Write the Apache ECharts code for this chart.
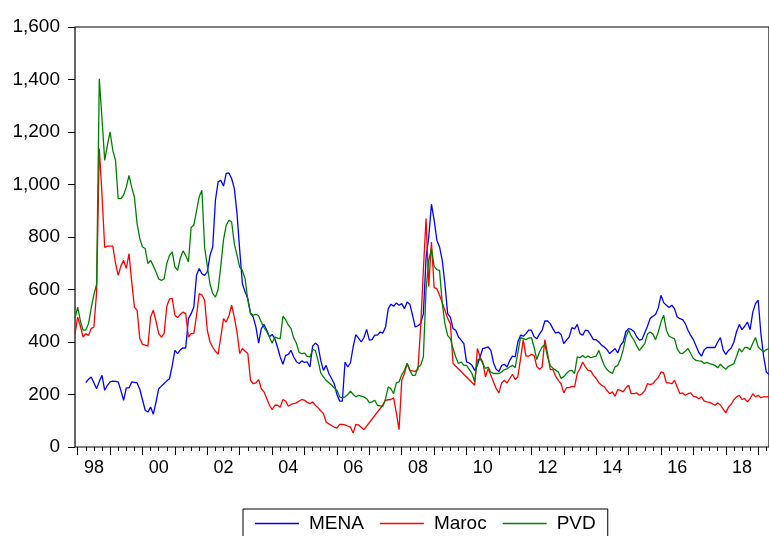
<!DOCTYPE html>
<html>
<head>
<meta charset="utf-8">
<script src="https://cdn.jsdelivr.net/npm/echarts@6/dist/echarts.min.js"></script>
<style>
    html, body { margin: 0; padding: 0; background: #fff; }
    #chart { width: 769px; height: 536px; }
</style>
</head>
<body>
<div id="chart"></div>
<script>
// monthly series, first observation 1997M12
var startYear = 1997;
var startMonth = 12;

var yTicks = [0, 200, 400, 600, 800, 1000, 1200, 1400, 1600];
var seriesNames = ['MENA', 'Maroc', 'PVD'];

var mena = [
    null, null, null, null, 245, 258, 267, 245, 222, 250, 273, 216,
    235, 248, 251, 250, 248, 215, 178, 225, 225, 248, 246, 244,
    220, 180, 140, 133, 152, 125, 171, 222, 232, 242, 252, 260,
    310, 368, 356, 370, 378, 377, 489, 508, 533, 654, 680, 660,
    654, 667, 730, 762, 940, 1010, 1016, 994, 1042, 1044, 1023, 985,
    889, 749, 622, 590, 565, 508, 495, 457, 396, 451, 467, 445,
    420, 429, 413, 380, 343, 315, 349, 353, 368, 343, 325, 318,
    328, 322, 324, 305, 384, 396, 387, 330, 292, 311, 280, 261,
    241, 200, 175, 175, 324, 305, 320, 381, 428, 415, 400, 417,
    448, 407, 409, 426, 426, 438, 434, 457, 527, 544, 536, 549,
    540, 546, 527, 552, 544, 502, 457, 462, 470, 508, 720, 800,
    925, 864, 788, 762, 711, 620, 508, 495, 451, 445, 419, 407,
    394, 324, 320, 311, 292, 311, 343, 375, 378, 381, 368, 320,
    295, 288, 311, 315, 305, 330, 346, 343, 400, 426, 422, 432,
    445, 445, 420, 412, 430, 445, 480, 480, 470, 450, 434, 438,
    429, 394, 407, 419, 455, 450, 467, 432, 426, 445, 442, 426,
    409, 409, 400, 388, 381, 371, 356, 366, 375, 358, 387, 400,
    440, 451, 448, 440, 420, 407, 410, 435, 460, 490, 498, 505,
    530, 578, 550, 540, 531, 540, 527, 495, 489, 485, 470, 445,
    425, 409, 385, 360, 346, 370, 379, 379, 379, 379, 400, 417,
    370, 353, 368, 377, 400, 440, 467, 447, 460, 476, 447, 514,
    546, 559, 432, 346, 286, 276
];

var maroc = [
    432, 495, 460, 419, 432, 425, 451, 457, 590, 1137, 960, 760,
    765, 765, 765, 700, 654, 690, 711, 680, 737, 630, 533, 521,
    413, 391, 388, 384, 495, 521, 480, 432, 419, 432, 536, 564,
    566, 502, 493, 505, 514, 508, 419, 432, 432, 500, 584, 580,
    559, 445, 400, 380, 365, 354, 419, 489, 476, 500, 540, 495,
    438, 356, 375, 365, 356, 254, 241, 244, 257, 222, 210, 185,
    160, 142, 159, 159, 152, 181, 175, 155, 162, 165, 168, 175,
    181, 178, 170, 165, 172, 159, 150, 138, 127, 95, 88, 82,
    76, 72, 86, 86, 84, 80, 76, 53, 86, 84, 75, 66,
    null, null, null, null, null, null, 160, 178, 180, 181, 187, 130,
    66, 254, 280, 318, 292, 290, 288, 295, 457, 673, 870, 612,
    781, 607, 603, 578, 550, 520, 490, 470, 318, null, null, null,
    null, null, null, null, 235, 375, 343, 324, 267, 299, 273, 248,
    222, 206, 244, 254, 244, 261, 277, 257, 267, 337, 409, 346,
    346, 353, 349, 307, 296, 305, 409, 356, 295, 295, 269, 254,
    241, 206, 226, 226, 231, 229, 280, 299, 324, 305, 292, 290,
    273, 261, 245, 235, 229, 216, 203, 210, 193, 219, 216, 210,
    225, 235, 203, 203, 206, 197, 203, 215, 241, 238, 241, 254,
    265, 286, 282, 244, 244, 241, 254, 229, 203, 206, 197, 203,
    206, 193, 191, 184, 191, 175, 172, 170, 165, 159, 168, 160,
    145, 130, 152, 163, 180, 191, 197, 181, 184, 172, 184, 203,
    191, 197, 188, 191, 191, 191
];

var pvd = [
    490, 533, 480, 445, 445, 470, 530, 580, 620, 1403, 1250, 1092,
    1150, 1200, 1130, 1092, 946, 946, 960, 990, 1035, 990, 952, 851,
    794, 762, 756, 699, 711, 690, 667, 640, 635, 640, 699, 730,
    743, 686, 673, 720, 747, 730, 705, 836, 845, 900, 953, 978,
    760, 690, 620, 585, 571, 600, 690, 790, 845, 864, 857, 775,
    730, 685, 673, 640, 560, 510, 502, 505, 500, 475, 455, 440,
    419, 395, 419, 415, 413, 498, 485, 465, 451, 415, 395, 360,
    356, 358, 345, 343, 371, 368, 330, 282, 267, 254, 245, 236,
    225, 216, 191, 187, 191, 200, 213, 201, 191, 197, 194, 191,
    184, 169, 172, 178, 159, 157, 155, 184, 229, 222, 203, 244,
    248, 275, 292, 318, 292, 273, 273, 305, 311, 343, 600, 711,
    756, 688, 676, 673, 546, 470, 425, 413, 375, 343, 318, 324,
    311, 311, 296, 280, 248, 330, 337, 318, 299, 305, 285, 280,
    280, 280, 286, 295, 298, 305, 311, 302, 360, 417, 413, 409,
    415, 417, 381, 333, 362, 381, 391, 343, 310, 300, 292, 286,
    261, 268, 280, 290, 292, 280, 343, 340, 349, 340, 346, 340,
    343, 346, 368, 337, 311, 295, 286, 280, 305, 311, 335, 370,
    419, 445, 422, 407, 385, 368, 381, 394, 430, 438, 430, 409,
    438, 476, 502, 445, 422, 417, 413, 375, 358, 356, 365, 375,
    356, 337, 330, 328, 327, 318, 322, 318, 315, 311, 302, 315,
    305, 296, 307, 312, 318, 346, 375, 362, 379, 379, 371, 395,
    417, 381, 371, 362, 371, 375
];

var colors = ['#0000ff', '#ff0000', '#008000'];
var fontName = 'Liberation Sans, Arial, sans-serif';

function buildMonths(n) {
    var out = [];
    var y = startYear, m = startMonth;
    for (var i = 0; i < n; i++) {
        out.push(y + '-' + (m < 10 ? '0' + m : m));
        m++;
        if (m > 12) { m = 1; y++; }
    }
    return out;
}

function withComma(v) {
    return String(v).replace(/\B(?=(\d{3})+(?!\d))/g, ',');
}

var months = buildMonths(mena.length);

function lineSeries(name, data, color, connect) {
    return {
        name: name,
        type: 'line',
        data: data,
        showSymbol: false,
        symbol: 'none',
        connectNulls: connect,
        xAxisIndex: 0,
        itemStyle: { color: color },
        lineStyle: { color: color, width: 1.3 },
        emphasis: { disabled: true }
    };
}

var chart = echarts.init(document.getElementById('chart'));
chart.setOption({
    animation: false,
    backgroundColor: '#fff',
    // the right side of the frame is cut off in the original, so push it past the edge
    grid: {
        left: 75,
        right: -3,
        top: 27,
        bottom: 89,
        show: true,
        borderColor: '#000',
        borderWidth: 1.2
    },
    legend: {
        data: seriesNames,
        left: 243,
        top: 509,
        icon: 'rect',
        itemWidth: 44,
        itemHeight: 1.3,
        itemGap: 16,
        borderColor: '#000',
        borderWidth: 1,
        padding: [5, 12, 8, 12],
        textStyle: {
            fontFamily: fontName,
            fontSize: 19,
            color: '#000',
            padding: [0, 0, 0, 5]
        }
    },
    xAxis: [
        {
            type: 'category',
            data: months,
            boundaryGap: false,
            position: 'bottom',
            axisLine: { show: false },
            axisTick: {
                show: true,
                length: 8,
                interval: function (i) { return i % 12 === 1; },
                lineStyle: { color: '#000', width: 1 }
            },
            axisLabel: {
                interval: function (i) { return i % 24 === 7; },
                formatter: function (v) { return v.substr(2, 2); },
                margin: 12,
                fontFamily: fontName,
                fontSize: 18,
                color: '#000'
            },
            splitLine: { show: false }
        },
        {
            type: 'category',
            data: months,
            boundaryGap: false,
            position: 'bottom',
            axisLine: { show: false },
            axisTick: {
                show: true,
                length: 4,
                interval: function (i) { return i % 3 === 1 && i % 12 !== 1; },
                lineStyle: { color: '#000', width: 1 }
            },
            axisLabel: { show: false },
            splitLine: { show: false }
        }
    ],
    yAxis: {
        type: 'value',
        min: yTicks[0],
        max: yTicks[yTicks.length - 1],
        interval: 200,
        axisLine: { show: false },
        axisTick: { show: true, length: 7, lineStyle: { color: '#000' } },
        axisLabel: {
            formatter: withComma,
            margin: 15,
            fontFamily: fontName,
            fontSize: 19,
            color: '#000'
        },
        splitLine: { show: false }
    },
    series: [
        lineSeries('MENA', mena, colors[0], false),
        lineSeries('Maroc', maroc, colors[1], true),
        lineSeries('PVD', pvd, colors[2], false)
    ]
});
</script>
</body>
</html>
